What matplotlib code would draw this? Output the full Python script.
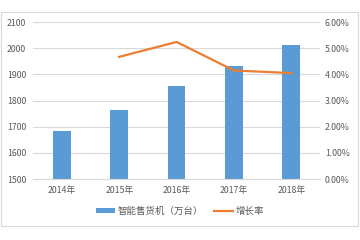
import matplotlib
matplotlib.use("Agg")
import matplotlib.pyplot as plt
from matplotlib.patches import Rectangle
from matplotlib.ticker import FuncFormatter

plt.rcParams['font.family'] = ['Noto Sans CJK SC', 'DejaVu Sans']

years = ['2014年', '2015年', '2016年', '2017年', '2018年']
machines = [1683, 1764, 1855, 1932, 2012]   # 万台
growth_years = [1, 2, 3, 4]
growth = [4.67, 5.24, 4.15, 4.05]          # %

blue = '#5B9BD5'
orange = '#ED7D31'
gray = '#595959'

fig = plt.figure(figsize=(3.6, 2.4), dpi=100)
ax = fig.add_axes([0.092, 0.254, 0.797, 0.654])
ax2 = ax.twinx()

x = list(range(len(years)))
ax.bar(x, machines, width=0.31, color=blue, zorder=2, label='智能售货机（万台）')
ax2.plot(growth_years, growth, color=orange, lw=1.6, label='增长率')

ax.set_ylim(1500, 2100)
ax.set_yticks(range(1500, 2101, 100))
ax2.set_ylim(0, 6)
ax2.set_yticks(range(0, 7))
ax2.yaxis.set_major_formatter(FuncFormatter(lambda v, p: f'{v:.2f}%'))
ax.set_xlim(-0.5, 4.5)
ax.set_xticks(x)
ax.set_xticklabels(years)

ax.grid(axis='y', color='#D9D9D9', lw=0.8, zorder=0)
ax.set_axisbelow(True)
for a in (ax, ax2):
    for s in a.spines.values():
        s.set_visible(False)
    a.tick_params(length=0, labelsize=6.3, colors=gray)
ax.spines['bottom'].set_visible(True)
ax.spines['bottom'].set_color('#D9D9D9')
ax.tick_params(axis='x', pad=5)
ax.tick_params(axis='y', pad=5)
ax2.tick_params(axis='y', pad=3.5)

h1, l1 = ax.get_legend_handles_labels()
h2, l2 = ax2.get_legend_handles_labels()
fig.legend(h1 + h2, l1 + l2, loc='center', bbox_to_anchor=(0.5, 0.12), ncol=2,
           frameon=False, fontsize=6.8, labelcolor=gray, handlelength=2.0,
           handleheight=0.5, columnspacing=1.2, handletextpad=0.3)

fig.patches.append(Rectangle((0.004, 0.058), 0.99, 0.892, transform=fig.transFigure,
                             fill=False, edgecolor='#D9D9D9', lw=0.8))

fig.savefig('out.png', dpi=100)
